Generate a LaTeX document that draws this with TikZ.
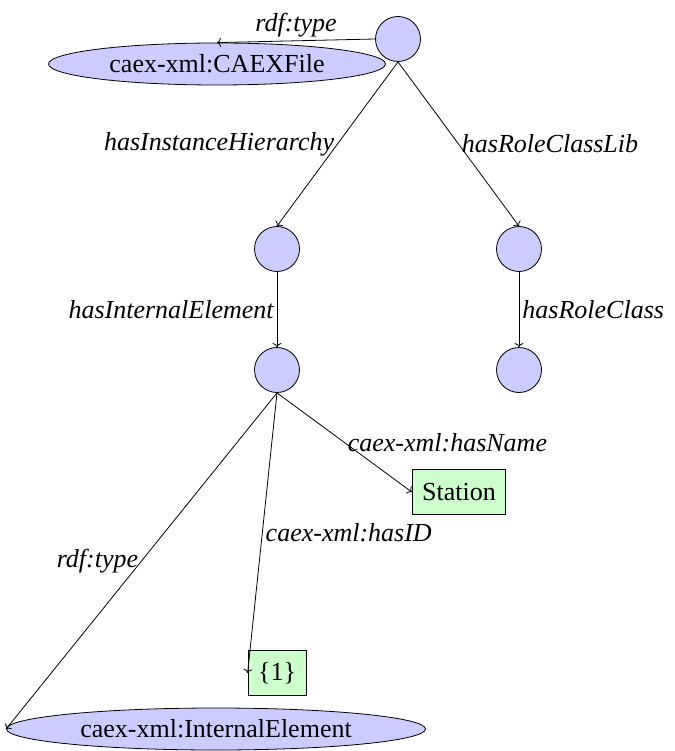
\documentclass[tikz,border=0pt]{standalone}
\usepackage{fontspec}
\setmainfont{Liberation Serif}
\usetikzlibrary{arrows.meta,shapes.geometric}

\begin{document}
\begin{tikzpicture}[x=1pt,y=-1pt,
  every node/.style={font=\fontsize{26}{31}\selectfont},
  res/.style={circle,draw,line width=0.8pt,fill=blue!20,minimum size=45pt,inner sep=0pt},
  cls/.style={ellipse,draw,line width=0.8pt,fill=blue!20,inner sep=0pt,minimum height=42pt},
  lit/.style={rectangle,draw,line width=0.8pt,fill=green!20,inner xsep=10pt,minimum height=45pt},
  rel/.style={draw,line width=0.8pt,-{To[length=4pt,width=9pt]}},
  lbl/.style={font=\fontsize{26}{31}\selectfont\itshape,inner sep=3pt}]

  \useasboundingbox (0,0) rectangle (674,751);

  % resources
  \node[res] (c0) at (398,39) {};
  \node[res] (c1) at (277,249) {};
  \node[res] (c2) at (519,249) {};
  \node[res] (c3) at (277,370) {};
  \node[res] (c4) at (519,370) {};

  % classes
  \node[cls,minimum width=337pt] (caex) at (217,64) {caex-xml:CAEXFile};
  \node[cls,minimum width=419pt] (ie) at (216,729) {caex-xml:InternalElement};

  % literals
  \node[lit] (station) at (459,492) {Station};
  \node[lit] (one) at (277,673) {\{1\}};

  % properties
  \draw[rel] (c0.west) -- node[lbl,midway,above] (l0) {rdf:type} (caex.north);
  \draw[rel] (c0.south) -- node[lbl,midway,left] (l1) {hasInstanceHierarchy} (c1.north);
  \draw[rel] (c0.south) -- node[lbl,midway,right] (l2) {hasRoleClassLib} (c2.north);
  \draw[rel] (c1.south) -- node[lbl,midway,left] (l3) {hasInternalElement} (c3.north);
  \draw[rel] (c2.south) -- node[lbl,midway,right] (l4) {hasRoleClass} (c4.north);
  \draw[rel] (c3.south) -- node[lbl,midway,right] (l5) {caex-xml:hasName} (station.west);
  \draw[rel] (c3.south) -- node[lbl,midway,right] (l6) {caex-xml:hasID} (one.west);
  \draw[rel] (c3.south) -- node[lbl,midway,left] (l7) {rdf:type} (ie.west);
\end{tikzpicture}
\end{document}
